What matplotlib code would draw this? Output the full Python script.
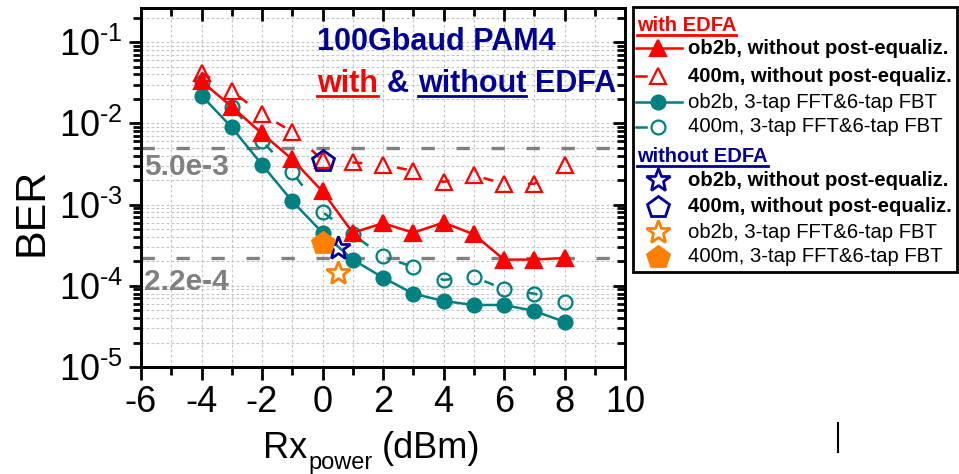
import matplotlib
matplotlib.use("Agg")
import matplotlib.pyplot as plt
import numpy as np
from matplotlib.lines import Line2D
from matplotlib.ticker import FixedLocator, LogLocator, NullFormatter

plt.rcParams['font.family'] = ['Liberation Sans', 'DejaVu Sans']
plt.rcParams['mathtext.fontset'] = 'custom'
plt.rcParams['mathtext.rm'] = 'Liberation Sans'
plt.rcParams['mathtext.it'] = 'Liberation Sans'
plt.rcParams['mathtext.bf'] = 'Liberation Sans:bold'

# ---------------- data ----------------
rx_power = [-4, -3, -2, -1, 0, 1, 2, 3, 4, 5, 6, 7, 8]
ber_ob2b_noeq = [0.033, 0.016, 0.0075, 0.0036, 0.00145, 0.00045, 0.00059, 0.00045,
                 0.0006, 0.00043, 0.00021, 0.00021, 0.00022]
ber_400m_noeq = [0.042, 0.025, 0.013, 0.0079, 0.0035, 0.0033, 0.0031, 0.0026,
                 0.0019, 0.0023, 0.0018, 0.0018, 0.0031]
ber_ob2b_eq = [0.022, 0.0089, 0.0031, 0.0011, 0.00045, 0.00021, 0.000126, 0.00008,
               0.000065, 0.000058, 0.000058, 0.000049, 0.000036]
ber_400m_eq = [0.032, 0.016, 0.006, 0.0025, 0.00081, 0.00043, 0.00023, 0.00017,
               0.000118, 0.000129, 0.000091, 0.00008, 0.000064]

noedfa_labels = ["ob2b, without post-equaliz.", "400m, without post-equaliz.",
                 "ob2b, 3-tap FFT&6-tap FBT", "400m, 3-tap FFT&6-tap FBT"]
noedfa_x = [0.5, 0.0, 0.5, 0.0]
noedfa_ber = [0.00029, 0.0034, 0.000145, 0.00034]

edfa_labels = ["ob2b, without post-equaliz.", "400m, without post-equaliz.",
               "ob2b, 3-tap FFT&6-tap FBT", "400m, 3-tap FFT&6-tap FBT"]

thresholds = [5.0e-3, 2.2e-4]
threshold_labels = ["5.0e-3", "2.2e-4"]

xticks = [-6, -4, -2, 0, 2, 4, 6, 8, 10]
yticks = [1e-5, 1e-4, 1e-3, 1e-2, 1e-1]
ytick_labels = ["$10^{\u2010" + str(k) + "}$" for k in (5, 4, 3, 2, 1)]

# ---------------- styles ----------------
RED = '#ff0000'
TEAL = '#008080'
NAVY = '#000099'
ORANGE = '#ff8000'
GRAY = '#808080'

W, H = 959, 474
fig = plt.figure(figsize=(W / 100, H / 100), dpi=100)
ax = fig.add_axes([141 / W, 1 - 367 / H, (625 - 141) / W, (367 - 8) / H])
ax.set_yscale('log')
ax.set_xlim(-6, 10)
ax.set_ylim(1e-5, 10 ** -0.58)

# grid
ax.set_xticks(xticks)
ax.xaxis.set_minor_locator(FixedLocator(np.arange(-5, 10, 2)))
ax.yaxis.set_major_locator(FixedLocator(yticks))
ax.yaxis.set_minor_locator(LogLocator(base=10, subs=np.arange(2, 10), numticks=20))
ax.yaxis.set_minor_formatter(NullFormatter())
ax.grid(True, which='both', color='#c4c4c4', linestyle=(0, (2.5, 2)), linewidth=0.8, zorder=0)
ax.set_axisbelow(True)

ax.set_xticklabels([str(t) for t in xticks], fontsize=26)
ax.set_yticklabels(ytick_labels, fontsize=26)
ax.tick_params(which='major', direction='out', length=9, width=2, pad=4)
ax.tick_params(which='minor', direction='out', length=6, width=2)
for s in ax.spines.values():
    s.set_linewidth(2)

# mirrored inward ticks on top/right
axr = ax.twinx()
axr.set_yscale('log')
axr.set_ylim(ax.get_ylim())
axr.yaxis.set_major_locator(FixedLocator(yticks))
axr.yaxis.set_minor_locator(LogLocator(base=10, subs=np.arange(2, 10), numticks=20))
axr.tick_params(which='major', direction='in', length=9, width=2, labelright=False)
axr.tick_params(which='minor', direction='in', length=6, width=2, labelright=False)
axt = ax.twiny()
axt.set_xlim(ax.get_xlim())
axt.set_xticks(xticks)
axt.xaxis.set_minor_locator(FixedLocator(np.arange(-5, 10, 2)))
axt.tick_params(which='major', direction='in', length=9, width=2, labeltop=False)
axt.tick_params(which='minor', direction='in', length=6, width=2, labeltop=False)
for a in (axr, axt):
    for s in a.spines.values():
        s.set_linewidth(2)

# threshold lines
for th in thresholds:
    ax.axhline(th, color=GRAY, lw=2.4, linestyle=(0, (4, 6.5)), zorder=1)
fig.text(144 / W, 1 - 175 / H, threshold_labels[0], color=GRAY, fontsize=21.5,
         fontweight='bold', ha='left', va='baseline', zorder=2)
fig.text(144 / W, 1 - 290 / H, threshold_labels[1], color=GRAY, fontsize=21.5,
         fontweight='bold', ha='left', va='baseline', zorder=2)

lw = 1.8
mew = 1.6
ax.plot(rx_power, ber_ob2b_noeq, color=RED, lw=lw, marker='^', ms=12, mfc=RED, mec=RED,
        mew=mew, zorder=4)
ax.plot(rx_power, ber_400m_noeq, color=RED, lw=lw, linestyle=(0, (4, 14)), marker='^', ms=12,
        mfc='none', mec=RED, mew=mew, zorder=4)
ax.plot(rx_power, ber_ob2b_eq, color=TEAL, lw=lw, marker='o', ms=10, mfc=TEAL, mec=TEAL,
        mew=mew, zorder=3)
ax.plot(rx_power, ber_400m_eq, color=TEAL, lw=lw, linestyle=(0, (4, 14)), marker='o', ms=10,
        mfc='none', mec=TEAL, mew=mew, zorder=3)

# without EDFA points
nstyle = [dict(marker='*', ms=18, mfc='none', mec=NAVY, mew=2),
          dict(marker='p', ms=16, mfc='none', mec=NAVY, mew=2),
          dict(marker='*', ms=18, mfc='none', mec=ORANGE, mew=2),
          dict(marker='p', ms=16, mfc=ORANGE, mec=ORANGE, mew=2)]
for xv, yv, st in zip(noedfa_x, noedfa_ber, nstyle):
    ax.plot([xv], [yv], linestyle='none', zorder=5, **st)

fig.canvas.draw()
renderer = fig.canvas.get_renderer()


def put_pieces(x0, ybase, pieces, size, weight='bold'):
    x = x0
    for item in pieces:
        txt, col, under, gap = item[:4]
        sz = item[4] if len(item) > 4 else size
        dy = item[5] if len(item) > 5 else 0
        t = fig.text(x / W, 1 - (ybase + dy) / H, txt, color=col, fontsize=sz,
                     fontweight=weight, ha='left', va='baseline')
        bb = t.get_window_extent(renderer)
        if under:
            fig.add_artist(Line2D([bb.x0 / W, bb.x1 / W],
                                  [(H - ybase - 3.5) / H, (H - ybase - 3.5) / H],
                                  color=col, lw=2, transform=fig.transFigure))
        x = bb.x1 + gap


# axis labels
fig.text(32 / W, 1 - 212 / H, "BER", rotation=90, fontsize=31, ha='center', va='center')
put_pieces(263, 458, [("Rx", 'black', False, 1, 26, 0),
                      ("power", 'black', False, 9, 17, 11),
                      ("(dBm)", 'black', False, 0, 26, 0)], 26, weight='normal')

# title text inside plot
put_pieces(317, 50, [("100Gbaud PAM4", NAVY, False, 0)], 22)
put_pieces(317, 92, [("with", RED, True, 9), ("&", NAVY, False, 9),
                     ("without", NAVY, True, 9), ("EDFA", NAVY, False, 0)], 22)

# legend box
lx0, lx1, ly0, ly1 = 633, 957, 7, 272
fig.add_artist(plt.Rectangle((lx0 / W, 1 - ly1 / H), (lx1 - lx0) / W, (ly1 - ly0) / H,
                             transform=fig.transFigure, fill=False, lw=2, ec='black'))

put_pieces(637, 31, [("with EDFA", RED, True, 0)], 14.5)
put_pieces(637, 162, [("without EDFA", NAVY, True, 0)], 14.5)

row_y = [48, 76, 102, 127]
edfa_styles = [dict(color=RED, marker='^', ms=12, mfc=RED, mec=RED, solid=True),
               dict(color=RED, marker='^', ms=12, mfc='none', mec=RED, solid=False),
               dict(color=TEAL, marker='o', ms=10, mfc=TEAL, mec=TEAL, solid=True),
               dict(color=TEAL, marker='o', ms=10, mfc='none', mec=TEAL, solid=False)]
bold_flags = [True, True, False, False]
LEG_FS = 14.6
for yy, lab, st, bf in zip(row_y, edfa_labels, edfa_styles, bold_flags):
    yf = 1 - yy / H
    if st['solid']:
        fig.add_artist(Line2D([636 / W, 682 / W], [yf, yf], color=st['color'], lw=lw,
                              transform=fig.transFigure))
    else:
        fig.add_artist(Line2D([636 / W, 646 / W], [yf, yf], color=st['color'], lw=lw,
                              transform=fig.transFigure))
    fig.add_artist(Line2D([658 / W], [yf], marker=st['marker'], ms=st['ms'], mfc=st['mfc'],
                          mec=st['mec'], mew=mew, linestyle='none', transform=fig.transFigure))
    fig.text(688 / W, yf, lab, fontsize=LEG_FS, fontweight='bold' if bf else 'normal',
             ha='left', va='center')

row_y2 = [180, 207, 232, 257]
for yy, lab, st, bf in zip(row_y2, noedfa_labels, nstyle, bold_flags):
    yf = 1 - yy / H
    fig.add_artist(Line2D([658 / W], [yf], linestyle='none', transform=fig.transFigure, **st))
    fig.text(688 / W, yf, lab, fontsize=LEG_FS, fontweight='bold' if bf else 'normal',
             ha='left', va='center')

# stray mark at bottom right of the original image
fig.add_artist(Line2D([838 / W, 838 / W], [1 - 452 / H, 1 - 423 / H], color='black', lw=1.5,
                      transform=fig.transFigure))

fig.savefig("out.png", dpi=100)
